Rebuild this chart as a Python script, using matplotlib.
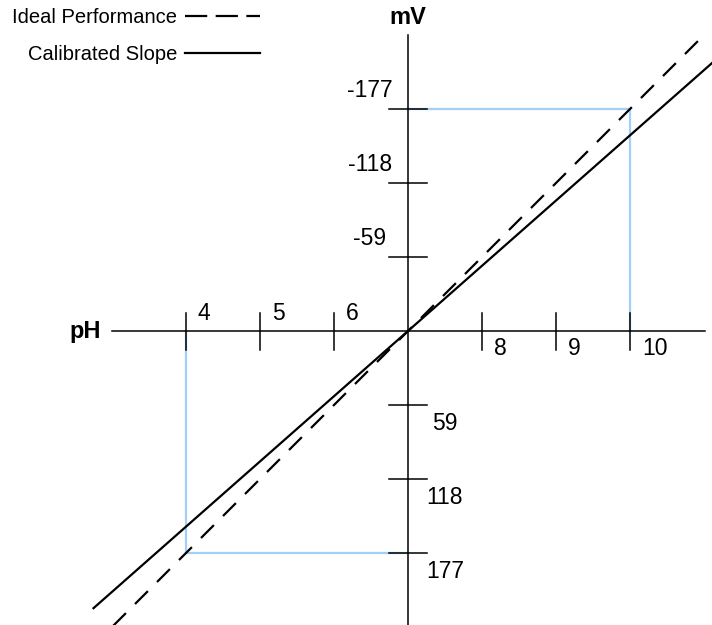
import matplotlib
matplotlib.use('Agg')
import matplotlib.pyplot as plt
from matplotlib.lines import Line2D

plt.rcParams['font.family'] = ['Liberation Sans', 'DejaVu Sans']

# axis ticks
ph_ticks = [4, 5, 6, 8, 9, 10]
mv_ticks = [-177, -118, -59, 59, 118, 177]

# lines (pH, mV)
ideal_ph = [3.0, 11.0]
ideal_mv = [236, -236]
calib_ph = [2.75, 11.25]
calib_mv = [221, -221]

# blue guide lines
guide_low_ph = [4, 4, 7]
guide_low_mv = [0, 177, 177]
guide_high_ph = [7, 10, 10]
guide_high_mv = [-177, -177, 0]

# pixel layout: origin at (408, 331), 74 px per pH unit and per 59 mV
W, H = 712, 625
x0, y0, s = 408, 331, 74.0
xlim = (7 - x0 / s, 7 + (W - x0) / s)
ylim = ((H - y0) / s * 59, -y0 / s * 59)

fig = plt.figure(figsize=(W / 100, H / 100), dpi=100)
ax = fig.add_axes([0, 0, 1, 1])
ax.set_xlim(xlim)
ax.set_ylim(ylim)
ax.axis('off')

blue = '#a3cff7'
ax.plot(guide_low_ph, guide_low_mv, color=blue, lw=1.6, zorder=1)
ax.plot(guide_high_ph, guide_high_mv, color=blue, lw=1.6, zorder=1)

# axes
ax.plot([3.0, 11.02], [0, 0], color='black', lw=1.1, zorder=2)
ax.plot([7, 7], [-236, 250], color='black', lw=1.1, zorder=2)

tick_mv = 18.5 / s * 59
tick_ph = 19 / s
for p in ph_ticks:
    ax.plot([p, p], [-tick_mv, tick_mv], color='black', lw=1.1, zorder=2)
    if p < 7:
        ax.annotate(str(p), xy=(p, 0), xytext=(12, 18), textcoords='offset pixels',
                    ha='left', va='center', fontsize=16.5)
    else:
        ax.annotate(str(p), xy=(p, 0), xytext=(12, -17.5), textcoords='offset pixels',
                    ha='left', va='center', fontsize=16.5)
for m in mv_ticks:
    ax.plot([7 - tick_ph, 7 + tick_ph], [m, m], color='black', lw=1.1, zorder=2)
    if m < 0:
        ax.annotate(str(m), xy=(7, m), xytext=(-38, 19), textcoords='offset pixels',
                    ha='center', va='center', fontsize=16.5)
    else:
        ax.annotate(str(m), xy=(7, m), xytext=(37, -18), textcoords='offset pixels',
                    ha='center', va='center', fontsize=16.5)

ax.plot(ideal_ph, ideal_mv, color='black', lw=1.6, dashes=(8.2, 5.8), zorder=3)
ax.plot(calib_ph, calib_mv, color='black', lw=1.6, zorder=3)

ax.annotate('mV', xy=(7, -236), xytext=(0, 18), textcoords='offset pixels',
            ha='center', va='center', fontsize=17, fontweight='bold')
ax.annotate('pH', xy=(3.0, 0), xytext=(-27, 0), textcoords='offset pixels',
            ha='center', va='center', fontsize=17, fontweight='bold')

handles = [Line2D([], [], color='black', lw=1.6, dashes=(10, 3.8)),
           Line2D([], [], color='black', lw=1.6)]
fig.legend(handles, ['Ideal Performance', 'Calibrated Slope'],
           loc='upper right', bbox_to_anchor=(260 / W, 1 - 8 / H),
           markerfirst=False, frameon=False, fontsize=14.5,
           handlelength=3.7, handletextpad=0.4, labelspacing=0.9,
           borderpad=0, borderaxespad=0)

fig.savefig('out.png', dpi=100)
